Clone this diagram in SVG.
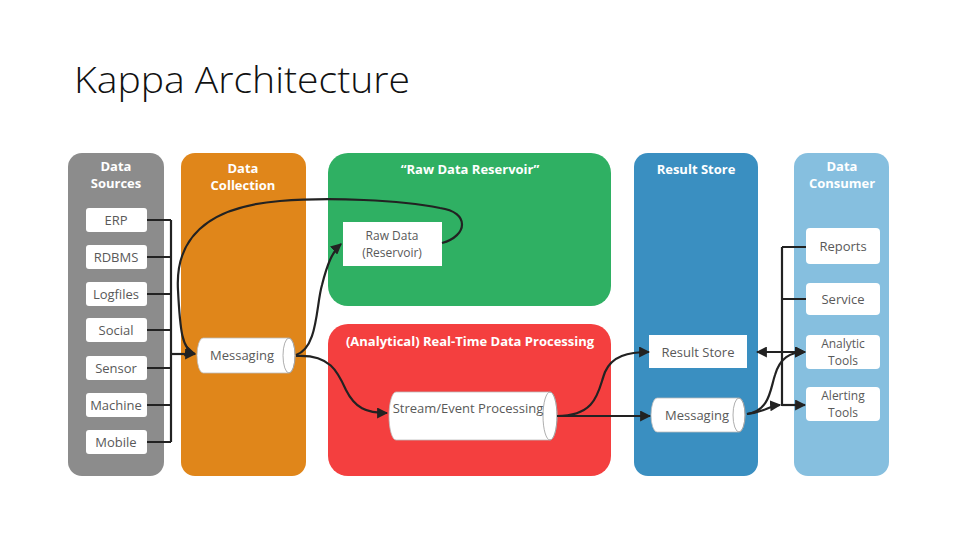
<svg xmlns="http://www.w3.org/2000/svg" width="960" height="540" viewBox="0 0 960 540">
<defs>
<style>
.lane-t{font-family:"Open Sans","Liberation Sans",sans-serif;font-weight:bold;font-size:13px;fill:#fff;text-anchor:middle}
.bx{fill:#fff}
.bt{font-family:"Open Sans","Liberation Sans",sans-serif;font-size:13px;fill:#595959;text-anchor:middle}
.bt2{font-family:"Open Sans","Liberation Sans",sans-serif;font-size:12px;fill:#595959;text-anchor:middle}
.cyl{fill:#fff;stroke:#bbb;stroke-width:0.8}
.cap{fill:none;stroke:#999;stroke-width:0.8}
.ln{fill:none;stroke:#222;stroke-width:2.2}
.ar{fill:none;stroke:#222;stroke-width:2.2;marker-end:url(#ah)}
</style>
<marker id="ah" viewBox="0 0 10 10" refX="9" refY="5" markerWidth="5" markerHeight="5" orient="auto-start-reverse" markerUnits="strokeWidth">
<path d="M0,0 L10,5 L0,10 Z" fill="#222"/>
</marker>
</defs>
<rect width="960" height="540" fill="#fff"/>
<text x="74" y="93" font-family="'Open Sans','Liberation Sans',sans-serif" font-weight="300" font-size="36" fill="#111" textLength="336" lengthAdjust="spacingAndGlyphs">Kappa Architecture</text>

<g id="lane-sources">
<rect x="68" y="153" width="96" height="323" rx="14" fill="#8c8c8c"/>
<text class="lane-t" x="116" y="171">Data</text>
<text class="lane-t" x="116" y="188">Sources</text>
</g>
<g id="lane-collection">
<rect x="181" y="153" width="125" height="323" rx="14" fill="#e0861a"/>
<text class="lane-t" x="243" y="173">Data</text>
<text class="lane-t" x="243" y="190">Collection</text>
</g>
<g id="lane-reservoir">
<rect x="328" y="153" width="283" height="153" rx="20" fill="#2fb063"/>
<text class="lane-t" x="470" y="174">“Raw Data Reservoir”</text>
</g>
<g id="lane-processing">
<rect x="328" y="324" width="283" height="152" rx="20" fill="#f43f3f"/>
<text class="lane-t" x="470" y="346">(Analytical) Real-Time Data Processing</text>
</g>
<g id="lane-result">
<rect x="634" y="153" width="124" height="323" rx="14" fill="#3a8fc1"/>
<text class="lane-t" x="696" y="174">Result Store</text>
</g>
<g id="lane-consumer">
<rect x="794" y="153" width="95" height="323" rx="14" fill="#86bfdf"/>
<text class="lane-t" x="842" y="171">Data</text>
<text class="lane-t" x="842" y="188">Consumer</text>
</g>

<g id="erp"><rect class="bx" x="86" y="208" width="61" height="24" rx="3"/><text class="bt" x="116" y="225">ERP</text></g>
<g id="rdbms"><rect class="bx" x="86" y="245" width="61" height="24" rx="3"/><text class="bt" x="116" y="262">RDBMS</text></g>
<g id="logfiles"><rect class="bx" x="86" y="282" width="61" height="24" rx="3"/><text class="bt" x="116" y="299">Logfiles</text></g>
<g id="social"><rect class="bx" x="86" y="318" width="61" height="24" rx="3"/><text class="bt" x="116" y="335">Social</text></g>
<g id="sensor"><rect class="bx" x="86" y="356" width="61" height="24" rx="3"/><text class="bt" x="116" y="373">Sensor</text></g>
<g id="machine"><rect class="bx" x="86" y="393" width="61" height="24" rx="3"/><text class="bt" x="116" y="410">Machine</text></g>
<g id="mobile"><rect class="bx" x="86" y="430" width="61" height="24" rx="3"/><text class="bt" x="116" y="447">Mobile</text></g>

<g id="messaging-collection">
<path class="cyl" d="M203,338 H289 A6,17.5 0 0 1 289,373 H203 A6,17.5 0 0 1 203,338 Z"/>
<ellipse class="cap" cx="289" cy="355.5" rx="6" ry="17.5"/>
<text class="bt" x="242" y="360">Messaging</text>
</g>
<g id="raw-data">
<rect class="bx" x="343" y="222" width="99" height="44"/>
<text class="bt2" x="392" y="240">Raw Data</text>
<text class="bt2" x="392" y="257">(Reservoir)</text>
</g>
<g id="stream-processing">
<path class="cyl" d="M396,392 H550 A7,24 0 0 1 550,440 H396 A7,24 0 0 1 396,392 Z"/>
<ellipse class="cap" cx="550" cy="416" rx="7" ry="24"/>
<text class="bt" x="468" y="413">Stream/Event Processing</text>
</g>
<g id="result-store">
<rect class="bx" x="649" y="335" width="98" height="33"/>
<text class="bt" x="698" y="357">Result Store</text>
</g>
<g id="messaging-result">
<path class="cyl" d="M657,398 H739 A6,17 0 0 1 739,432 H657 A6,17 0 0 1 657,398 Z"/>
<ellipse class="cap" cx="739" cy="415" rx="6" ry="17"/>
<text class="bt" x="697" y="420">Messaging</text>
</g>
<g id="reports"><rect class="bx" x="806" y="228" width="74" height="36" rx="4"/><text class="bt" x="843" y="251">Reports</text></g>
<g id="service"><rect class="bx" x="806" y="283" width="74" height="32" rx="4"/><text class="bt" x="843" y="304">Service</text></g>
<g id="analytic-tools"><rect class="bx" x="806" y="335" width="74" height="34" rx="4"/><text class="bt2" x="843" y="348">Analytic</text><text class="bt2" x="843" y="365">Tools</text></g>
<g id="alerting-tools"><rect class="bx" x="806" y="387" width="74" height="34" rx="4"/><text class="bt2" x="843" y="400">Alerting</text><text class="bt2" x="843" y="417">Tools</text></g>

<g id="connectors">
<path class="ln" d="M147,220 H171 M147,257 H171 M147,294 H171 M147,330 H171 M147,368 H171 M147,405 H171 M147,442 H171 M171,220 V442"/>
<path class="ar" d="M171,354 H195"/>
<path class="ar" d="M442,243 C468,236 470,212 440,208 C400,200 330,197 280,201 C205,207 175,240 178,290 C180,330 182,350 195,354"/>
<path class="ar" d="M296,355 C318,348 316,305 322,285 C327,265 332,252 341,244"/>
<path class="ar" d="M296,356 C330,354 338,372 346,390 C355,408 366,413 387,413"/>
<path class="ar" d="M557,416 C598,416 598,390 605,372 C612,356 628,352 649,352"/>
<path class="ar" d="M557,416 H650"/>
<path class="ln" d="M806,247 H782 M806,299 H782 M782,247 V405 H800"/>
<path class="ar" d="M782,405 H805"/>
<path class="ar" d="M757,352 H805" style="marker-start:url(#ah)"/>
<path class="ar" d="M747,414 C770,410 770,390 775,375 C780,358 790,352 805,352"/>
<path class="ar" d="M747,414 C765,412 768,406 780,405"/>
</g>
</svg>
